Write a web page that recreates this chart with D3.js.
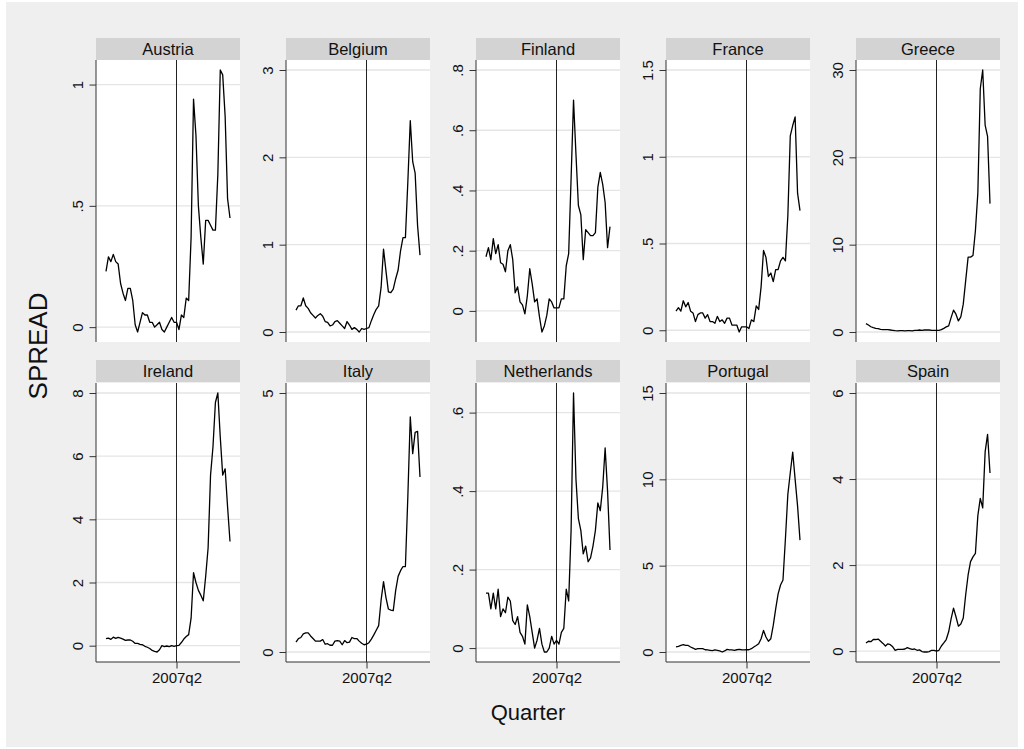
<!DOCTYPE html>
<html lang="en">
<head>
<meta charset="utf-8" />
<script src="https://d3js.org/d3.v7.min.js"></script>
<style>
  body { margin: 0; background: #fff; }
  svg text { font-family: "Liberation Sans", Arial, sans-serif; fill: #111; }
  .tick text { font-size: 15px; }
  .tick line { stroke: #333; }
</style>
</head>
<body>
<svg width="1024" height="749"></svg>
<script>
// quarters on the x axis
var quarters = [
  "2000q1","2000q2","2000q3","2000q4","2001q1","2001q2","2001q3","2001q4",
  "2002q1","2002q2","2002q3","2002q4","2003q1","2003q2","2003q3","2003q4",
  "2004q1","2004q2","2004q3","2004q4","2005q1","2005q2","2005q3","2005q4",
  "2006q1","2006q2","2006q3","2006q4","2007q1","2007q2","2007q3","2007q4",
  "2008q1","2008q2","2008q3","2008q4","2009q1","2009q2","2009q3","2009q4",
  "2010q1","2010q2","2010q3","2010q4","2011q1","2011q2","2011q3","2011q4",
  "2012q1","2012q2","2012q3","2012q4"
];
var refQuarter = "2007q2";

var countries = ["Austria", "Belgium", "Finland", "France", "Greece",
                 "Ireland", "Italy", "Netherlands", "Portugal", "Spain"];

// SPREAD values, one per quarter
var austria = [0.23,0.29,0.27,0.30,0.27,0.26,0.18,0.14,0.11,0.16, 0.16,0.11,0.01,-0.02,0.02,0.06,0.05,0.05,0.02,0.02,
  0.00,0.01,0.02,-0.01,-0.02,0.00,0.02,0.04,0.02,0.02, -0.01,0.05,0.04,0.12,0.11,0.37,0.94,0.79,0.50,0.37,
  0.26,0.44,0.44,0.42,0.40,0.40,0.63,1.06,1.04,0.87, 0.53,0.45];
var belgium = [0.25,0.30,0.30,0.39,0.30,0.27,0.22,0.19,0.16,0.19, 0.21,0.18,0.12,0.11,0.07,0.08,0.12,0.13,0.10,0.07,
  0.04,0.12,0.08,0.03,0.05,0.03,0.00,0.04,0.03,0.04, 0.05,0.13,0.20,0.26,0.30,0.51,0.95,0.70,0.46,0.45,
  0.49,0.61,0.71,0.93,1.08,1.08,1.72,2.42,1.95,1.82, 1.22,0.88];
var finland = [0.18,0.21,0.17,0.24,0.19,0.22,0.16,0.155,0.13,0.20, 0.22,0.17,0.06,0.08,0.03,0.02,-0.01,0.05,0.14,0.09,
  0.03,0.04,-0.02,-0.07,-0.05,-0.015,0.04,0.03,0.01,0.01, 0.01,0.04,0.04,0.15,0.19,0.44,0.70,0.52,0.35,0.32,
  0.17,0.27,0.26,0.25,0.25,0.26,0.41,0.46,0.42,0.36, 0.21,0.28];
var france = [0.11,0.13,0.11,0.17,0.135,0.16,0.11,0.10,0.05,0.09, 0.10,0.10,0.07,0.09,0.05,0.05,0.04,0.08,0.05,0.06,
  0.04,0.07,0.07,0.03,0.03,0.03,-0.01,0.02,0.02,0.02, 0.01,0.06,0.05,0.14,0.12,0.25,0.46,0.42,0.31,0.33,
  0.28,0.35,0.35,0.40,0.42,0.40,0.66,1.12,1.18,1.23, 0.79,0.69];
var greece = [0.96,0.80,0.60,0.50,0.42,0.38,0.31,0.27,0.27,0.27, 0.23,0.19,0.15,0.12,0.15,0.15,0.12,0.15,0.15,0.12,
  0.19,0.19,0.23,0.19,0.23,0.23,0.23,0.19,0.19,0.19, 0.19,0.27,0.42,0.58,0.70,1.65,2.50,2.04,1.27,1.73,
  3.19,5.88,8.57,8.57,8.76,11.6,15.9,27.85,30.0,23.7, 22.4,14.7];
var ireland = [0.22,0.24,0.20,0.27,0.23,0.26,0.24,0.21,0.17,0.18, 0.18,0.14,0.07,0.07,0.04,0.03,-0.02,-0.05,-0.09,-0.15,
  -0.18,-0.20,-0.13,0.00,-0.03,-0.01,-0.03,0.00,-0.02,0.00, 0.01,0.10,0.21,0.29,0.35,0.87,2.31,2.0,1.75,1.6,
  1.42,2.2,3.1,5.4,6.3,7.7,8.0,6.6,5.4,5.6, 4.4,3.3];
var italy = [0.19,0.26,0.28,0.35,0.37,0.37,0.31,0.26,0.21,0.21, 0.21,0.24,0.15,0.16,0.13,0.13,0.21,0.22,0.21,0.14,
  0.22,0.18,0.19,0.28,0.26,0.26,0.21,0.17,0.14,0.15, 0.18,0.25,0.33,0.42,0.51,1.0,1.36,1.05,0.83,0.81,
  0.80,1.19,1.46,1.57,1.65,1.65,3.0,4.54,3.83,4.24, 4.26,3.38];
var netherlands = [0.14,0.14,0.10,0.14,0.10,0.15,0.08,0.10,0.09,0.13, 0.12,0.07,0.06,0.08,0.04,0.03,0.01,0.11,0.08,0.04,
  0.00,0.02,0.05,0.01,-0.01,-0.01,0.00,0.03,0.01,0.02, 0.01,0.04,0.05,0.15,0.12,0.30,0.65,0.43,0.33,0.30,
  0.24,0.26,0.22,0.23,0.26,0.30,0.37,0.35,0.41,0.51, 0.40,0.25];
var portugal = [0.29,0.33,0.38,0.42,0.38,0.38,0.29,0.23,0.15,0.19, 0.19,0.19,0.13,0.12,0.10,0.08,0.12,0.10,0.06,0.00,
  0.06,0.15,0.12,0.12,0.10,0.13,0.15,0.13,0.12,0.13, 0.13,0.19,0.29,0.38,0.48,0.77,1.25,0.87,0.62,0.77,
  1.54,2.50,3.37,3.88,4.17,6.54,9.13,10.38,11.58,10.0, 8.46,6.48];
var spain = [0.19,0.23,0.22,0.27,0.27,0.28,0.23,0.18,0.12,0.17, 0.15,0.10,0.02,0.04,0.04,0.04,0.05,0.08,0.06,0.04,
  0.05,0.02,0.03,-0.01,-0.02,-0.02,-0.01,0.02,0.02,0.00, 0.02,0.12,0.19,0.27,0.45,0.75,1.0,0.8,0.58,0.63,
  0.77,1.31,1.77,2.08,2.19,2.27,3.15,3.55,3.33,4.63, 5.04,4.14];

// y tick labels per panel
var austriaTicks = [0, 0.5, 1];
var belgiumTicks = [0, 1, 2, 3];
var finlandTicks = [0, 0.2, 0.4, 0.6, 0.8];
var franceTicks = [0, 0.5, 1, 1.5];
var greeceTicks = [0, 10, 20, 30];
var irelandTicks = [0, 2, 4, 6, 8];
var italyTicks = [0, 5];
var netherlandsTicks = [0, 0.2, 0.4, 0.6];
var portugalTicks = [0, 5, 10, 15];
var spainTicks = [0, 2, 4, 6];

var series = [austria, belgium, finland, france, greece, ireland, italy, netherlands, portugal, spain];
var yTicks = [austriaTicks, belgiumTicks, finlandTicks, franceTicks, greeceTicks,
              irelandTicks, italyTicks, netherlandsTicks, portugalTicks, spainTicks];

var svg = d3.select("svg");

// layout
var colX0 = 96, colStep = 190, plotW = 144;
var stripY = [38, 360], stripH = 22;
var plotTop = [60, 383], plotH = [282, 279];
var pad = 10;

// stata style: .5 instead of 0.5
var fmt = function(d) { return d3.format("~g")(d).replace(/^0\./, "."); };

svg.append("rect")
  .attr("x", 6).attr("y", 2)
  .attr("width", 1012).attr("height", 745)
  .attr("fill", "#efefef");

var x = d3.scalePoint().domain(quarters).range([pad, plotW - pad]);

countries.forEach(function(name, k) {
  var col = k % 5, row = Math.floor(k / 5);
  var left = colX0 + col * colStep, h = plotH[row];
  var values = series[k], ticks = yTicks[k];

  var y = d3.scaleLinear()
    .domain(d3.extent(values.concat(ticks)))
    .range([h - pad, pad]);

  // header strip
  svg.append("rect")
    .attr("x", left).attr("y", stripY[row])
    .attr("width", plotW).attr("height", stripH)
    .attr("fill", "#d3d3d3");
  svg.append("text")
    .attr("x", left + plotW / 2).attr("y", stripY[row] + stripH / 2)
    .attr("dy", "0.36em")
    .attr("text-anchor", "middle")
    .style("font-size", "16.5px")
    .text(name);

  var g = svg.append("g").attr("transform", "translate(" + left + "," + plotTop[row] + ")");

  g.append("rect").attr("width", plotW).attr("height", h).attr("fill", "#fff");

  g.selectAll("line.grid")
    .data(ticks)
    .enter()
    .append("line")
    .attr("class", "grid")
    .attr("x1", 0).attr("x2", plotW)
    .attr("y1", d => y(d)).attr("y2", d => y(d))
    .attr("stroke", "#e5e5e5")
    .attr("stroke-width", 1.3);

  // vertical line at 2007q2
  g.append("line")
    .attr("x1", x(refQuarter)).attr("x2", x(refQuarter))
    .attr("y1", 0).attr("y2", h)
    .attr("stroke", "#222")
    .attr("stroke-width", 1);

  var line = d3.line()
    .x((d, i) => x(quarters[i]))
    .y(d => y(d));

  g.append("path")
    .datum(values)
    .attr("d", line)
    .attr("fill", "none")
    .attr("stroke", "#000")
    .attr("stroke-width", 1.3)
    .attr("stroke-linejoin", "round");

  // y axis
  var ya = g.append("g")
    .call(d3.axisLeft(y).tickValues(ticks).tickSize(6.5).tickSizeOuter(0).tickFormat(fmt));
  ya.select(".domain").remove();
  ya.selectAll(".tick text")
    .attr("x", null).attr("dy", null)
    .attr("text-anchor", "middle")
    .attr("transform", "translate(-13,0) rotate(-90)");
  g.append("line")
    .attr("x1", 0).attr("x2", 0).attr("y1", 0).attr("y2", h)
    .attr("stroke", "#333");

  // x axis only on the bottom row
  if (row === 1) {
    var xa = g.append("g")
      .attr("transform", "translate(0," + h + ")")
      .call(d3.axisBottom(x).tickValues([refQuarter]).tickSize(6.5).tickPadding(4).tickSizeOuter(0));
    xa.select(".domain").remove();
    g.append("line")
      .attr("x1", 0).attr("x2", plotW).attr("y1", h).attr("y2", h)
      .attr("stroke", "#333");
  }
});

svg.append("text")
  .attr("x", 528).attr("y", 720)
  .attr("text-anchor", "middle")
  .style("font-size", "22px")
  .text("Quarter");

svg.append("text")
  .attr("transform", "translate(47,346) rotate(-90)")
  .attr("text-anchor", "middle")
  .style("font-size", "26px")
  .text("SPREAD");
</script>
</body>
</html>
